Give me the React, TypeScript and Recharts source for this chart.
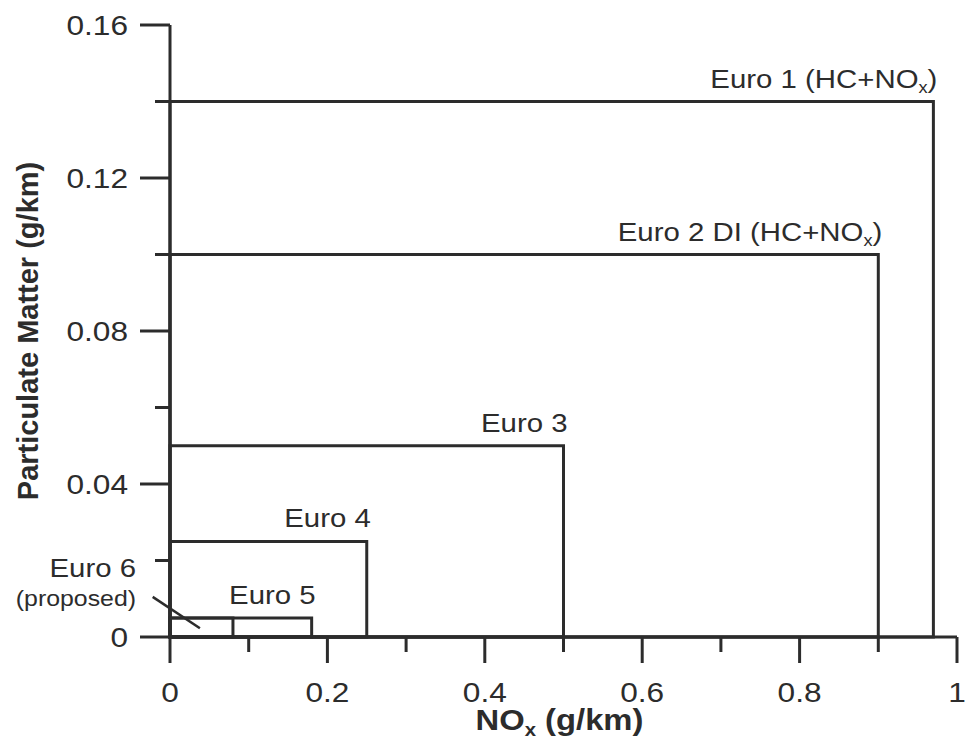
import { ComposedChart, XAxis, YAxis, ReferenceArea, ReferenceLine } from "recharts"

// emission standard limits for diesel passenger cars
const stages = ["Euro 1", "Euro 2 DI", "Euro 3", "Euro 4", "Euro 5", "Euro 6"]
const noxLimits = [0.97, 0.9, 0.5, 0.25, 0.18, 0.08]
const pmLimits = [0.14, 0.1, 0.05, 0.025, 0.005, 0.005]
const combinedHC = [true, true, false, false, false, false]

const xTicks = [0, 0.1, 0.2, 0.3, 0.4, 0.5, 0.6, 0.7, 0.8, 0.9, 1]
const xMajor = [0, 0.2, 0.4, 0.6, 0.8, 1]
const yTicks = [0, 0.02, 0.04, 0.06, 0.08, 0.1, 0.12, 0.14, 0.16]
const yMajor = [0, 0.04, 0.08, 0.12, 0.16]

const INK = "#2c2c2c"
const FONT = "'Liberation Sans', Arial, Helvetica, sans-serif"
const STRETCH = 1.13

const rows = stages.map((name, i) => ({ name, nox: noxLimits[i], pm: pmLimits[i] }))

function XTick({ x, y, payload }: any) {
  const major = xMajor.includes(payload.value)
  return (
    <g>
      <line x1={x} x2={x} y1={y} y2={y + (major ? 26 : 15)} stroke={INK} strokeWidth={3} />
      {major && (
        <g transform={`translate(${x},${y + 65}) scale(${STRETCH},1)`}>
          <text textAnchor="middle" fontSize={28} fill={INK} fontFamily={FONT}>
            {String(payload.value)}
          </text>
        </g>
      )}
    </g>
  )
}

function YTick({ x, y, payload }: any) {
  const major = yMajor.includes(payload.value)
  return (
    <g>
      <line x1={x} x2={x - (major ? 30 : 15)} y1={y} y2={y} stroke={INK} strokeWidth={3} />
      {major && (
        <g transform={`translate(${x - 42},${y}) scale(${STRETCH},1)`}>
          <text textAnchor="end" dy="0.36em" fontSize={28} fill={INK} fontFamily={FONT}>
            {String(payload.value)}
          </text>
        </g>
      )}
    </g>
  )
}

function NOxText({ size }: { size: number }) {
  return (
    <>
      NO
      <tspan fontSize={size * 0.62} dy={size * 0.22}>x</tspan>
      <tspan dy={-size * 0.22}>)</tspan>
    </>
  )
}

function StageLabel({ viewBox, i }: any) {
  const { x, y, width } = viewBox
  const size = 26
  if (stages[i] === "Euro 6") {
    return (
      <g>
        <g transform={`translate(${x - 34},${y - 41}) scale(${STRETCH},1)`}>
          <text textAnchor="end" fontSize={size} fill={INK} fontFamily={FONT}>{stages[i]}</text>
        </g>
        <g transform={`translate(${x - 34},${y - 12}) scale(${STRETCH},1)`}>
          <text textAnchor="end" fontSize={22} fill={INK} fontFamily={FONT}>(proposed)</text>
        </g>
      </g>
    )
  }
  return (
    <g transform={`translate(${x + width + 4},${y - 14}) scale(${STRETCH},1)`}>
      <text textAnchor="end" fontSize={size} fill={INK} fontFamily={FONT}>
        {stages[i]}
        {combinedHC[i] && (
          <>
            {" (HC+"}
            <NOxText size={size} />
          </>
        )}
      </text>
    </g>
  )
}

function YTitle({ viewBox }: any) {
  const cy = viewBox.y + viewBox.height / 2
  return (
    <text
      x={38}
      y={cy}
      transform={`rotate(-90, 38, ${cy})`}
      textAnchor="middle"
      fontSize={29}
      fontWeight="bold"
      fill={INK}
      fontFamily={FONT}
    >
      Particulate Matter (g/km)
    </text>
  )
}

function XTitle({ viewBox }: any) {
  const cx = viewBox.x + viewBox.width / 2 - 4
  const size = 29
  return (
    <g transform={`translate(${cx},730) scale(${STRETCH},1)`}>
      <text textAnchor="middle" fontSize={size} fontWeight="bold" fill={INK} fontFamily={FONT}>
        NO
        <tspan fontSize={size * 0.62} dy={size * 0.22}>x</tspan>
        <tspan dy={-size * 0.22}> (g/km)</tspan>
      </text>
    </g>
  )
}

export default function App() {
  return (
    <div style={{ position: "absolute", left: 0, top: 0, width: 966, height: 740, background: "#fff" }}>
      <ComposedChart width={966} height={740} data={rows} margin={{ top: 25, right: 9, left: 0, bottom: 0 }}>
        <XAxis
          type="number"
          dataKey="nox"
          domain={[0, 1]}
          ticks={xTicks}
          interval={0}
          height={103}
          tickSize={0}
          tickMargin={0}
          tickLine={false}
          axisLine={{ stroke: INK, strokeWidth: 3 }}
          tick={<XTick />}
          label={{ content: (p: any) => <XTitle viewBox={p.viewBox} /> }}
        />
        <YAxis
          type="number"
          dataKey="pm"
          domain={[0, 0.16]}
          ticks={yTicks}
          interval={0}
          width={170}
          tickSize={0}
          tickMargin={0}
          tickLine={false}
          axisLine={{ stroke: INK, strokeWidth: 3 }}
          tick={<YTick />}
          label={{ content: (p: any) => <YTitle viewBox={p.viewBox} /> }}
        />
        {stages.map((name, i) => (
          <ReferenceArea
            key={name}
            x1={0}
            x2={noxLimits[i]}
            y1={0}
            y2={pmLimits[i]}
            fill="none"
            fillOpacity={0}
            stroke={INK}
            strokeWidth={3}
            strokeOpacity={1}
            ifOverflow="visible"
            label={(p: any) => <StageLabel viewBox={p.viewBox} i={i} />}
          />
        ))}
        {/* leader from the Euro 6 note to its box */}
        <ReferenceLine
          segment={[
            { x: -0.022, y: 0.0105 },
            { x: 0.038, y: 0.0023 },
          ]}
          stroke={INK}
          strokeWidth={2.5}
          ifOverflow="visible"
        />
      </ComposedChart>
    </div>
  )
}
